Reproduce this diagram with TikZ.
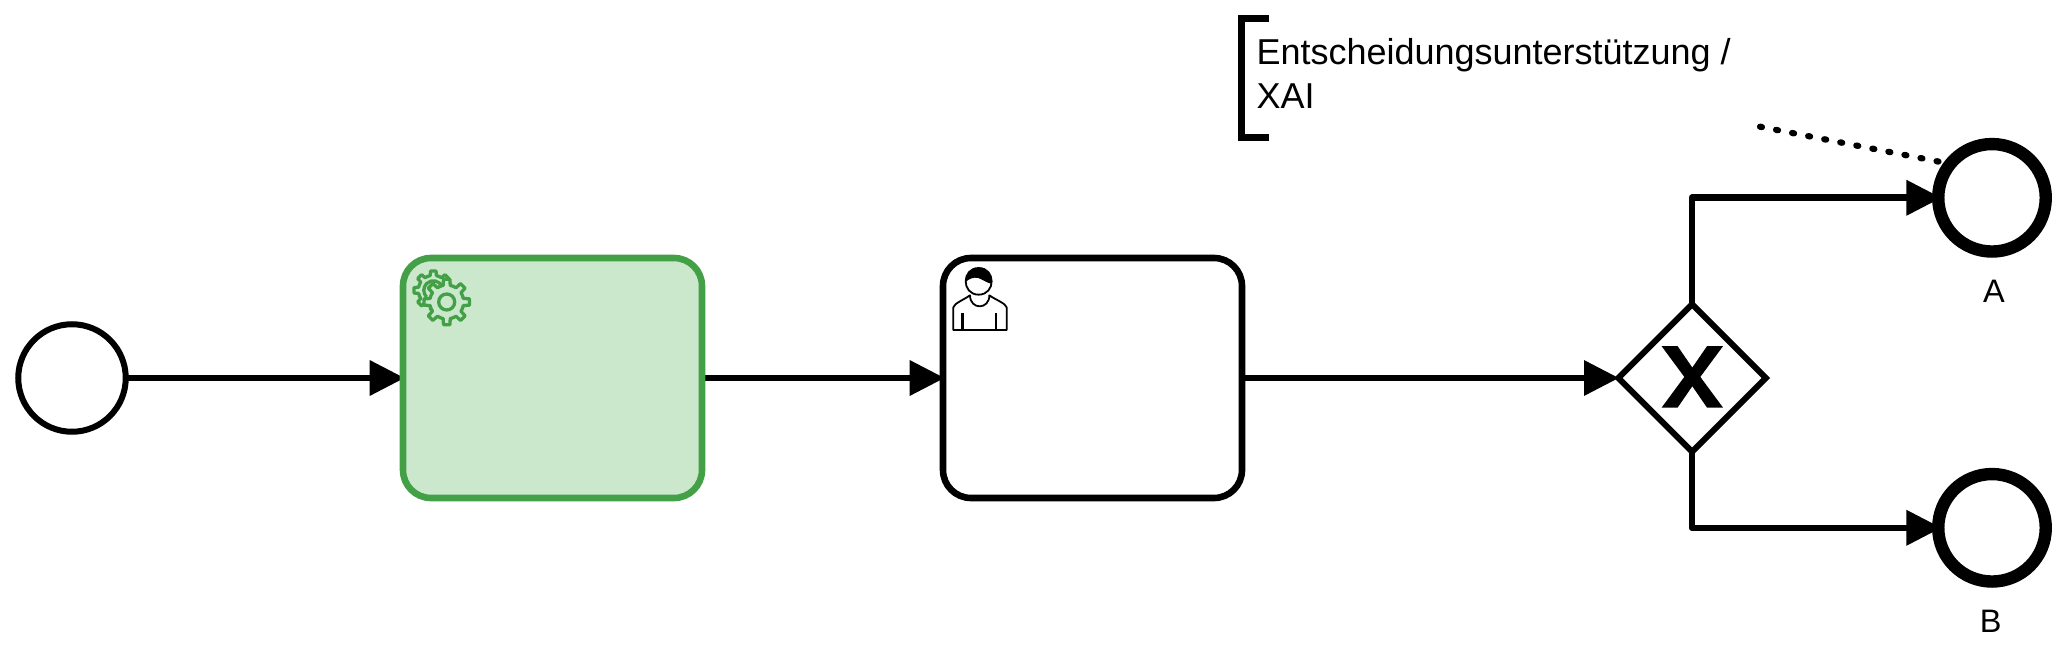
\documentclass[tikz,border=0pt]{standalone}
\usepackage{fontspec}
\setmainfont{Liberation Sans}
\usetikzlibrary{arrows.meta,shapes.geometric,backgrounds}
\definecolor{gstroke}{HTML}{43A047}
\definecolor{gfill}{HTML}{CBE8CC}
\tikzset{
  seqflow/.style={draw=black,line width=6.6pt,line join=round,shorten <=-3pt,shorten >=-5pt,-{Triangle[length=35pt,width=34pt]}},
  toend/.style={shorten >=-9.4pt},
  startev/.style={circle,draw=black,fill=white,line width=6pt,minimum size=107.5pt,inner sep=0pt},
  endev/.style={circle,draw=black,fill=white,line width=12.4pt,minimum size=107.5pt,inner sep=0pt},
  taskbox/.style={rectangle,rounded corners=28pt,line width=6.6pt,minimum width=299pt,minimum height=240pt,inner sep=0pt},
  gatewaybox/.style={diamond,aspect=1,draw=black,fill=white,line width=6pt,minimum width=150pt,minimum height=150pt,inner sep=0pt},
  lbl/.style={font=\fontsize{32.5}{38}\selectfont,inner sep=0pt,anchor=base},
  dotline/.style={draw=black,line width=6.2pt,line cap=round,dash pattern=on 2pt off 14.35pt},
  bracketline/.style={draw=black,line width=7pt,line join=miter},
  gearline/.style={draw=gstroke,line width=3.3pt,line join=round},
  personline/.style={draw=black,line width=1.8pt,line join=round}
}
\newcommand{\gearshape}[4]{% cx, cy, root radius, tip radius
  \begin{scope}[shift={(#1,#2)}]
  \filldraw[gearline,fill=gfill] (-12:#3)
    \foreach \a in {0,45,...,315}{
      -- ({\a-12}:#3) -- ({\a-8}:#4) -- ({\a+8}:#4) -- ({\a+12}:#3)
      -- ({\a+22.5}:#3) -- ({\a+33}:#3)
    } -- cycle;
  \end{scope}
}
\begin{document}
\begin{tikzpicture}[x=1pt,y=-1pt]
\useasboundingbox (0,0) rectangle (2064,663);

\node[startev] (start) at (72,378) {};
\node[taskbox,draw=gstroke,fill=gfill] (t1) at (552.5,378) {};
\node[taskbox,draw=black,fill=white] (t2) at (1092.5,378) {};
\node[gatewaybox] (gw) at (1692,378) {};
\node[endev] (endA) at (1992,197.8) {};
\node[endev] (endB) at (1992,527.8) {};

\begin{scope}[on background layer]
\draw[seqflow] (start) -- (t1);
\draw[seqflow] (t1) -- (t2);
\draw[seqflow] (t2) -- (gw);
\draw[seqflow,toend] (gw.north) |- (endA.west);
\draw[seqflow,toend] (gw.south) |- (endB.west);
\end{scope}

% exclusive marker
\begin{scope}[shift={(1692.3,376.9)},x=0.3333pt,y=-0.3333pt]
\fill[black] (-92,-92) -- (-44,-92) -- (0,-28) -- (44,-92) -- (92,-92) -- (24,0) -- (92,92) -- (44,92) -- (0,28) -- (-44,92) -- (-92,92) -- (-24,0) -- cycle;
\end{scope}

% gears
\gearshape{433.3}{290.3}{15}{19.5}
\draw[gearline] (433.3,290.3) ++(135:9.5) arc[start angle=135,end angle=330,radius=9.5];
\gearshape{446.7}{302}{17}{23}
\draw[gearline] (446.7,302) circle (8);

% person
\begin{scope}[shift={(935,250)},x=0.3333pt,y=-0.3333pt]
\draw[personline,fill=white] (55,240) -- (55,172) .. controls (58,160) and (85,150) .. (105,136) .. controls (105,180) and (163,180) .. (163,136) .. controls (183,150) and (212,160) .. (215,172) -- (215,240) -- cycle;
\draw[personline,fill=white] (131,54) .. controls (79,54) and (79,134) .. (131,134) .. controls (183,134) and (183,54) .. (131,54) -- cycle;
\fill[black] (92,96) .. controls (92,40) and (170,40) .. (170,101) .. controls (158,100) and (145,90) .. (130,84) .. controls (115,80) and (100,88) .. (92,96) -- cycle;
\draw[personline,line width=2.4pt] (83,189) -- (83,240);
\draw[personline,line width=2.4pt] (183,189) -- (183,240);
\end{scope}

% annotation
\coordinate (asrc) at (1760,126.7);
\begin{scope}[on background layer]
\draw[dotline] (asrc) -- (endA.144);
\end{scope}
\coordinate (b1) at (1269,18.3);
\coordinate (b2) at (1241,18.3);
\coordinate (b3) at (1241,137.7);
\coordinate (b4) at (1269,137.7);
\draw[bracketline] (b1) -- (b2) -- (b3) -- (b4);
\node[inner sep=0pt,anchor=north west,align=left,font=\fontsize{36}{43.3}\selectfont] (ann) at (1256.3,38.5) {Entscheidungsunterstützung /\\XAI};

\node[lbl] (la) at (1994,302.7) {A};
\node[lbl] (lb) at (1990.7,632.3) {B};
\end{tikzpicture}
\end{document}
